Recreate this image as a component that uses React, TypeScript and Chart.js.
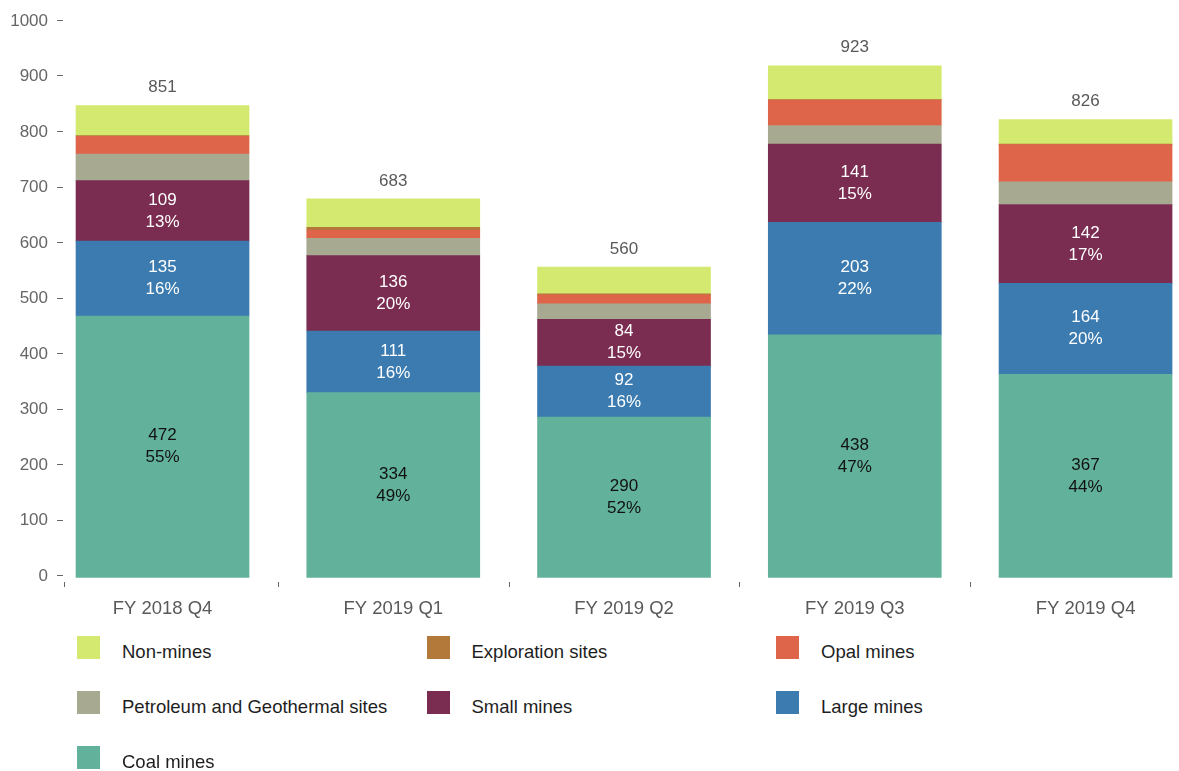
import React, { useEffect, useRef } from "react";
import { Chart, registerables } from "chart.js";

Chart.register(...registerables);

const categories = ["FY 2018 Q4", "FY 2019 Q1", "FY 2019 Q2", "FY 2019 Q3", "FY 2019 Q4"];
const coalMines = [472, 334, 290, 438, 367];
const largeMines = [135, 111, 92, 203, 164];
const smallMines = [109, 136, 84, 141, 142];
const petroleumSites = [48, 31, 28, 33, 41];
const opalMines = [32, 15, 16, 46, 67];
const explorationSites = [1, 5, 2, 1, 1];
const nonMines = [54, 51, 48, 61, 44];
const yTickValues = [0, 100, 200, 300, 400, 500, 600, 700, 800, 900, 1000];

const seriesNames = [
  "Coal mines",
  "Large mines",
  "Small mines",
  "Petroleum and Geothermal sites",
  "Opal mines",
  "Exploration sites",
  "Non-mines",
];
const seriesColors = ["#62b29b", "#3b7bb0", "#7a2d50", "#a8a991", "#de654a", "#b2793b", "#d4e96f"];
const seriesValues = [coalMines, largeMines, smallMines, petroleumSites, opalMines, explorationSites, nonMines];

const legendOrder = [
  "Non-mines",
  "Exploration sites",
  "Opal mines",
  "Petroleum and Geothermal sites",
  "Small mines",
  "Large mines",
  "Coal mines",
];

const FONT = '"Liberation Sans", Arial, Helvetica, sans-serif';
const X_MIN = -0.4269;
const X_MAX = 4.405;

const labelPlugin = {
  id: "segLabels",
  afterDatasetsDraw(chart: any) {
    const ctx = chart.ctx;
    const ds = chart.data.datasets;
    ctx.save();
    ctx.font = `17px ${FONT}`;
    ctx.textAlign = "center";
    ctx.textBaseline = "middle";
    for (let i = 0; i < categories.length; i++) {
      const total = ds.reduce((s: number, d: any) => s + d.data[i].y, 0);
      [0, 1, 2].forEach((di) => {
        const el = chart.getDatasetMeta(di).data[i];
        const v = ds[di].data[i].y;
        const cy = (el.y + el.base) / 2;
        ctx.fillStyle = di === 0 ? "#111111" : "#ffffff";
        ctx.fillText(String(v), el.x, cy - 11);
        ctx.fillText(Math.round((v / total) * 100) + "%", el.x, cy + 11);
      });
      const top = chart.getDatasetMeta(ds.length - 1).data[i];
      ctx.fillStyle = "#595959";
      ctx.fillText(String(total), top.x, top.y - 18);
    }
    const xs = chart.scales.x;
    const ys = chart.scales.y;
    const { bottom, left } = chart.chartArea;
    ctx.strokeStyle = "#666666";
    ctx.lineWidth = 1;
    // x-axis category boundary ticks
    [X_MIN, 0.5, 1.5, 2.5, 3.5].forEach((b) => {
      const px = Math.round(xs.getPixelForValue(b)) + 0.5;
      ctx.beginPath();
      ctx.moveTo(px, bottom + 4);
      ctx.lineTo(px, bottom + 9);
      ctx.stroke();
    });
    // y-axis small dashes
    yTickValues.forEach((v) => {
      const py = Math.round(ys.getPixelForValue(v) - 3) + 0.5;
      ctx.beginPath();
      ctx.moveTo(left - 7, py);
      ctx.lineTo(left - 1, py);
      ctx.stroke();
    });
    ctx.restore();
  },
};

export default function App() {
  const ref = useRef<HTMLCanvasElement>(null);
  useEffect(() => {
    if (!ref.current) return;
    const chart = new Chart(ref.current, {
      type: "bar",
      data: {
        datasets: seriesNames.map((name, si) => ({
          label: name,
          data: seriesValues[si].map((v, i) => ({ x: i, y: v })),
          backgroundColor: seriesColors[si],
          borderWidth: 0,
          barThickness: 173,
        })),
      },
      options: {
        responsive: false,
        animation: false,
        layout: { padding: { top: 23, left: 0, right: 0, bottom: 0 } },
        plugins: { legend: { display: false }, tooltip: { enabled: false } },
        scales: {
          x: {
            type: "linear",
            stacked: true,
            offset: false,
            min: X_MIN,
            max: X_MAX,
            grid: { display: false, drawTicks: false, offset: false },
            border: { display: false },
            afterBuildTicks: (scale: any) => {
              scale.ticks = categories.map((_, i) => ({ value: i }));
            },
            afterFit: (scale: any) => {
              scale.height = 52;
              scale.paddingLeft = 0;
              scale.paddingRight = 0;
            },
            ticks: {
              autoSkip: false,
              maxRotation: 0,
              padding: 20,
              color: "#595959",
              font: { family: FONT, size: 18.5 },
              callback: (v: any) => categories[v] ?? "",
            },
          },
          y: {
            stacked: true,
            min: 0,
            max: 1000,
            afterFit: (scale: any) => {
              scale.width = 64;
              scale.paddingTop = 0;
              scale.paddingBottom = 0;
            },
            afterBuildTicks: (scale: any) => {
              scale.ticks = yTickValues.map((v) => ({ value: v }));
            },
            grid: { drawOnChartArea: false, drawTicks: false },
            border: { display: false },
            ticks: {
              padding: 16,
              labelOffset: -2,
              color: "#666666",
              font: { family: FONT, size: 17 },
              callback: (v: any) => String(v),
            },
          },
        },
      },
      plugins: [labelPlugin],
    });
    return () => chart.destroy();
  }, []);

  return (
    <div style={{ position: "fixed", left: 0, top: 0, width: 1179, height: 771, background: "#fff" }}>
      <canvas ref={ref} width={1179} height={630} style={{ display: "block" }} />
      {legendOrder.map((name, k) => {
        const col = k % 3;
        const row = Math.floor(k / 3);
        const color = seriesColors[seriesNames.indexOf(name)];
        return (
          <React.Fragment key={name}>
            <div
              style={{
                position: "absolute",
                left: 77 + col * 349.5,
                top: 636 + row * 55,
                width: 23,
                height: 23,
                background: color,
              }}
            />
            <div
              style={{
                position: "absolute",
                left: 122 + col * 349.5,
                top: 641 + row * 55,
                fontFamily: FONT,
                fontSize: 18.5,
                lineHeight: "22px",
                color: "#1e1e1e",
                whiteSpace: "nowrap",
              }}
            >
              {name}
            </div>
          </React.Fragment>
        );
      })}
    </div>
  );
}
